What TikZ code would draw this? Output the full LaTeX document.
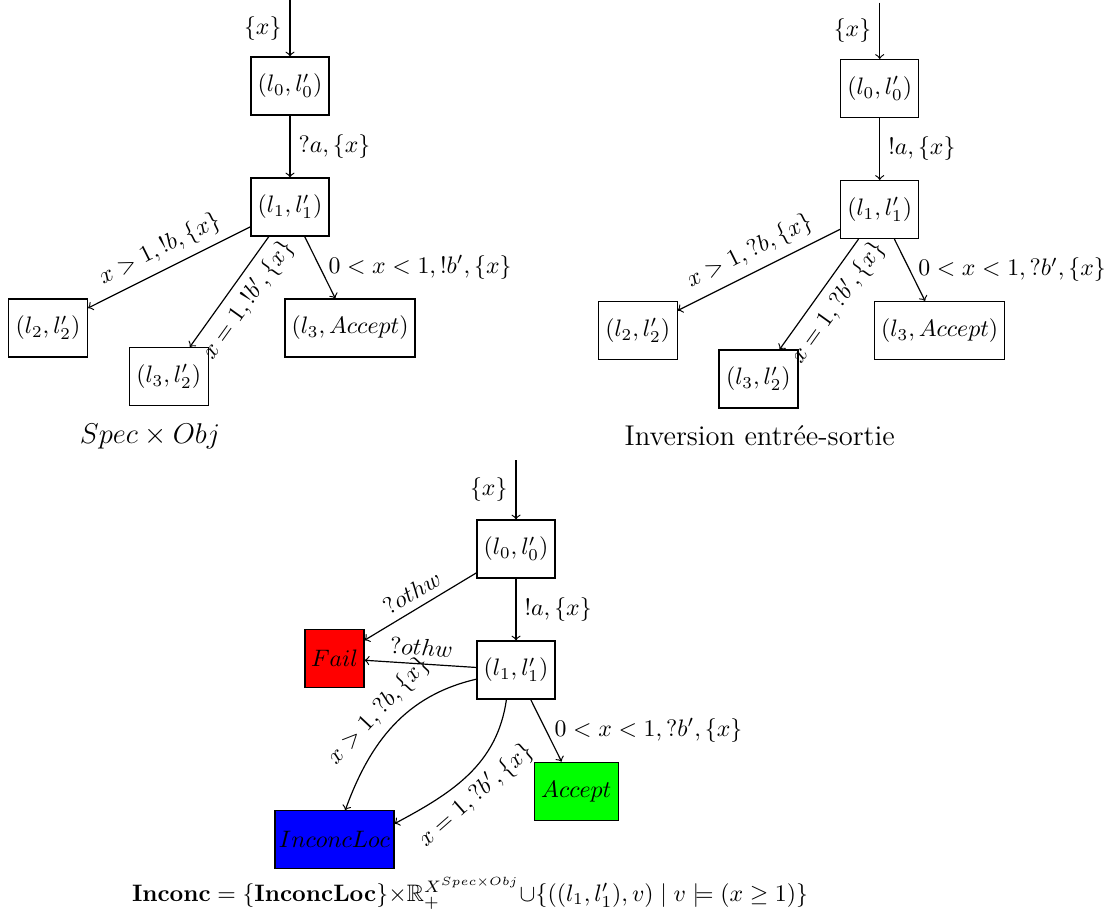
\documentclass[tikz,border=0pt]{standalone}
\usepackage{amsmath,amssymb}
\begin{document}
\begin{tikzpicture}[x=0.42pt,y=-0.42pt,line width=0.5pt,
  st/.style={draw, rectangle, minimum width=#1*0.42pt, minimum height=58*0.42pt, inner sep=1pt},
  st/.default=78,
  tr/.style={->}]
\useasboundingbox (0,0) rectangle (1111,919);

% ---------- Left: Spec x Obj ----------
\coordinate (Ain) at (290,0);
\node[st] (A0) at (290,86) {$(l_0,l'_0)$};
\node[st] (A1) at (290,207) {$(l_1,l'_1)$};
\node[st=79] (A2) at (48,328) {$(l_2,l'_2)$};
\node[st=79] (A3) at (168.7,376.5) {$(l_3,l'_2)$};
\node[st=130] (A4) at (350,328) {$(l_3,Accept)$};
\node (Acap) at (150,436) {\large $Spec\times Obj$};

\draw[tr] (Ain) -- node[midway,left] {$\{x\}$} (A0);
\draw[tr] (A0) -- node[midway,right] {$?a,\{x\}$} (A1);
\draw[tr] (A1) -- node[midway,sloped,above] {$x>1,!b,\{x\}$} (A2);
\draw[tr] (A1) -- node[pos=0.47,sloped,below] {$x=1,!b',\{x\}$} (A3);
\draw[tr] (A1) -- node[midway,right] {$0<x<1,!b',\{x\}$} (A4);

% ---------- Right: Inversion ----------
\coordinate (Bin) at (879.7,2.5);
\node[st] (B0) at (879.7,88.5) {$(l_0,l'_0)$};
\node[st] (B1) at (879.7,209.5) {$(l_1,l'_1)$};
\node[st=79] (B2) at (637.7,330.5) {$(l_2,l'_2)$};
\node[st=79] (B3) at (758.4,379) {$(l_3,l'_2)$};
\node[st=130] (B4) at (939.7,330.5) {$(l_3,Accept)$};
\node (Bcap) at (759.7,436) {\large Inversion entrée-sortie};

\draw[tr] (Bin) -- node[midway,left] {$\{x\}$} (B0);
\draw[tr] (B0) -- node[midway,right] {$!a,\{x\}$} (B1);
\draw[tr] (B1) -- node[midway,sloped,above] {$x>1,?b,\{x\}$} (B2);
\draw[tr] (B1) -- node[pos=0.47,sloped,below] {$x=1,?b',\{x\}$} (B3);
\draw[tr] (B1) -- node[midway,right] {$0<x<1,?b',\{x\}$} (B4);

% ---------- Bottom ----------
\coordinate (Cin) at (516,460);
\node[st] (C0) at (516,549) {$(l_0,l'_0)$};
\node[st] (C1) at (516,670) {$(l_1,l'_1)$};
\node[st=59, fill=red] (F) at (334.5,658.3) {$Fail$};
\node[st=84, fill=green] (Ac) at (576.3,791.2) {$Accept$};
\node[st=119, fill=blue] (In) at (334.5,839.7) {$InconcLoc$};

\draw[tr] (Cin) -- node[midway,left] {$\{x\}$} (C0);
\draw[tr] (C0) -- node[midway,right] {$!a,\{x\}$} (C1);
\draw[tr] (C0) -- node[midway,sloped,above] {$?othw$} (F);
\draw[tr] (C1) -- node[midway,sloped,above] {$?othw$} (F);
\draw[tr] (C1.193) to[out=193,in=70] node[midway,sloped,above] {$x>1,?b,\{x\}$} (In.70);
\draw[tr] (C1.252) to[out=262,in=28] node[pos=0.55,sloped,below] {$x=1,?b',\{x\}$} (In.15);
\draw[tr] (C1) -- node[midway,right] {$0<x<1,?b',\{x\}$} (Ac);

\node (formula) at (470,893) {$\mathbf{Inconc}=\{\mathbf{InconcLoc}\}{\times}\mathbb{R}_+^{X^{Spec\times Obj}}{\cup}\{((l_1,l'_1),v)\mid v\models(x\geq 1)\}$};
\end{tikzpicture}
\end{document}
